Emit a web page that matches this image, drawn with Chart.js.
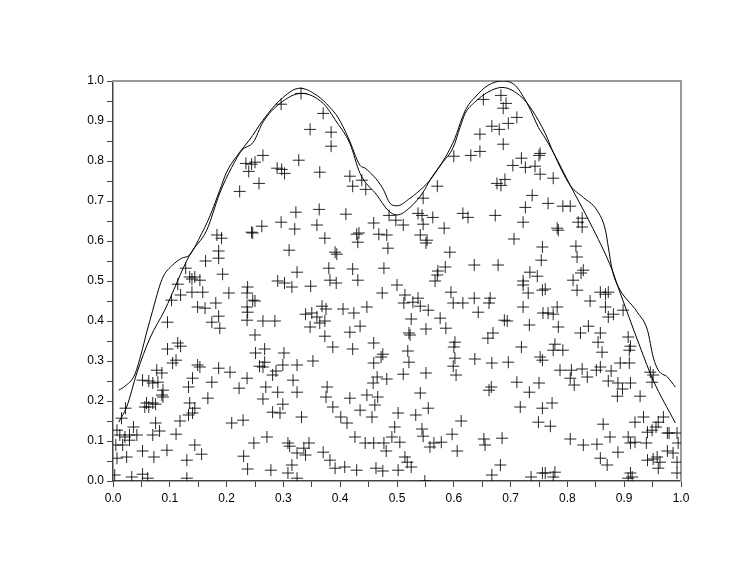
<!DOCTYPE html>
<html>
<head>
<meta charset="utf-8">
<title>Scatter with two curves</title>
<script src="https://cdn.jsdelivr.net/npm/chart.js@4.4.1/dist/chart.umd.min.js"></script>
<style>
  html, body { margin: 0; background: #fff; }
  canvas { display: block; }
</style>
</head>
<body>
<canvas id="chart" width="747" height="578"></canvas>
<script>
// sample points (x and y in the same order)
const crossX = [
  0.234,0.244,0.239,0.223,0.244,0.183,0.191,0.186,0.186,0.163,0.193,0.128,0.135,0.144,0.153,0.139,0.114,0.119,0.139,0.158,0.103,0.204,0.237,0.236,0.246,0.149,0.162,0.181,0.236,0.237,
  0.096,0.174,0.188,0.186,0.236,0.114,0.119,0.096,0.111,0.105,0.149,0.153,0.186,0.206,0.077,0.086,0.052,0.063,0.070,0.079,
  0.140,0.174,0.236,0.222,0.133,0.088,0.086,0.088,0.167,0.059,0.070,0.056,0.063,0.075,0.135,0.144,0.140,0.133,0.022,0.015,
  0.075,0.118,0.229,0.209,0.036,0.007,0.012,0.021,0.029,0.042,0.070,0.082,0.111,0.005,0.017,0.029,0.052,0.072,0.095,0.144,
  0.156,0.130,0.007,0.024,0.230,0.237,0.003,0.033,0.052,0.061,0.130,
  0.331,0.296,0.370,0.347,0.384,0.384,0.264,0.250,0.327,0.289,0.297,0.302,0.364,0.257,0.417,0.422,0.438,0.445,0.322,0.363,
  0.410,0.262,0.246,0.296,0.320,0.359,0.373,0.459,0.433,0.429,0.431,0.468,0.482,0.484,0.486,0.498,0.310,0.391,0.394,0.380,
  0.324,0.422,0.477,0.290,0.302,0.382,0.393,0.431,
  0.315,0.348,0.474,0.500,0.250,0.368,0.375,0.405,0.424,0.447,0.339,0.350,0.359,0.373,0.364,0.347,0.264,0.285,0.435,0.417,
  0.250,0.373,0.387,0.459,0.422,0.475,0.472,0.251,0.267,0.301,0.352,0.459,0.267,0.258,0.264,0.299,0.287,0.281,0.324,0.317,
  0.465,0.482,0.458,0.269,0.290,0.324,0.377,0.375,0.417,0.447,0.466,0.461,0.264,0.299,0.281,0.294,0.332,0.387,0.401,0.412,
  0.435,0.456,0.502,0.496,0.491,0.248,0.271,0.308,0.311,0.336,0.345,0.324,0.339,0.370,0.382,0.391,0.408,0.426,0.444,0.459,
  0.477,0.481,0.429,0.463,0.475,0.502,0.278,0.315,0.308,0.324,
  0.683,0.692,0.687,0.652,0.711,0.667,0.680,0.696,0.646,0.687,0.600,0.630,0.646,0.752,0.750,0.704,0.719,0.726,0.743,0.752,
  0.571,0.676,0.683,0.690,0.738,0.546,0.726,0.722,0.673,0.537,0.544,0.563,0.616,0.625,0.511,0.546,0.583,0.541,0.553,0.551,
  0.706,0.756,0.754,0.593,0.636,0.678,0.585,0.572,0.571,0.567,0.734,0.747,0.722,
  0.595,0.514,0.512,0.528,0.537,0.541,0.555,0.599,0.616,0.636,0.664,0.662,0.643,0.722,0.722,0.731,0.756,0.525,0.576,0.586,
  0.551,0.521,0.523,0.689,0.694,0.733,0.669,0.660,0.757,0.602,0.600,0.719,0.519,0.602,0.637,0.667,0.696,0.752,0.756,0.521,
  0.599,0.511,0.551,0.604,0.711,0.750,0.666,0.662,0.733,0.541,0.555,0.533,0.717,0.756,0.613,0.749,0.544,0.546,0.597,
  0.505,0.578,0.558,0.565,0.606,0.653,0.655,0.685,0.514,0.518,0.525,0.682,0.667,0.549,0.736,0.756,
  0.775,0.766,0.792,0.805,0.782,0.784,0.826,0.826,0.819,0.815,0.817,0.828,0.824,0.810,
  0.817,0.761,0.840,0.858,0.872,0.867,0.782,0.766,0.775,0.867,0.881,0.872,0.898,0.784,0.823,0.837,0.858,0.854,0.907,0.778,
  0.911,0.909,0.792,0.775,0.861,0.893,0.909,0.858,0.787,0.807,0.826,0.851,0.877,0.805,0.812,0.835,0.872,0.889,0.911,0.946,
  0.951,0.949,0.897,0.888,0.928,0.773,0.770,0.863,0.919,0.934,0.969,0.960,0.941,0.949,0.956,0.976,0.979,0.993,0.805,0.828,
  0.852,0.875,0.907,0.911,0.919,0.939,0.995,0.889,0.858,0.870,0.941,0.958,0.963,0.951,0.976,0.986,0.993,0.960,0.761,0.778,
  0.775,0.911,0.914,0.907,0.993
];
const crossY = [
  0.794,0.792,0.774,0.724,0.622,0.615,0.607,0.575,0.557,0.550,0.517,0.532,0.510,0.510,0.502,0.505,0.492,0.465,0.472,0.472,0.452,0.470,0.485,0.470,0.452,0.435,0.432,0.445,0.435,0.422,
  0.397,0.397,0.382,0.412,0.402,0.345,0.337,0.330,0.302,0.295,0.290,0.285,0.282,0.272,0.277,0.270,0.252,0.250,0.245,0.247,
  0.257,0.247,0.257,0.232,0.235,0.227,0.215,0.210,0.207,0.195,0.195,0.185,0.185,0.192,0.195,0.182,0.170,0.165,0.182,0.157,
  0.145,0.150,0.152,0.145,0.135,0.127,0.115,0.110,0.115,0.115,0.115,0.125,0.117,0.090,0.090,0.102,0.075,0.060,0.077,0.090,
  0.067,0.052,0.057,0.060,0.062,0.030,0.015,0.010,0.017,0.007,0.007,
  0.969,0.942,0.919,0.879,0.872,0.837,0.814,0.797,0.802,0.782,0.779,0.769,0.772,0.744,0.762,0.737,0.752,0.729,0.672,0.679,
  0.667,0.637,0.620,0.647,0.630,0.640,0.607,0.645,0.620,0.617,0.597,0.617,0.615,0.582,0.664,0.652,0.577,0.572,0.567,0.532,
  0.522,0.530,0.532,0.500,0.495,0.502,0.495,0.502,
  0.485,0.487,0.470,0.490,0.450,0.437,0.430,0.430,0.420,0.435,0.417,0.420,0.410,0.400,0.395,0.385,0.400,0.400,0.387,0.372,
  0.365,0.362,0.335,0.345,0.330,0.317,0.310,0.320,0.330,0.320,0.300,0.295,0.297,0.287,0.285,0.290,0.275,0.265,0.290,0.252,
  0.260,0.255,0.245,0.235,0.222,0.222,0.235,0.210,0.207,0.215,0.210,0.190,0.205,0.192,0.172,0.170,0.160,0.185,0.160,0.145,
  0.177,0.160,0.170,0.135,0.110,0.095,0.110,0.095,0.087,0.082,0.095,0.070,0.065,0.072,0.052,0.032,0.035,0.110,0.095,0.095,
  0.095,0.075,0.027,0.032,0.025,0.027,0.027,0.040,0.020,0.007,
  0.964,0.944,0.932,0.954,0.909,0.887,0.879,0.894,0.867,0.842,0.812,0.814,0.824,0.819,0.814,0.789,0.807,0.784,0.787,0.767,
  0.737,0.744,0.739,0.754,0.714,0.707,0.684,0.647,0.664,0.669,0.664,0.659,0.669,0.659,0.640,0.642,0.632,0.615,0.602,0.595,
  0.605,0.585,0.552,0.572,0.540,0.540,0.535,0.525,0.515,0.500,0.522,0.512,0.500,
  0.472,0.465,0.445,0.447,0.457,0.437,0.427,0.445,0.445,0.457,0.457,0.445,0.422,0.435,0.490,0.470,0.477,0.405,0.407,0.382,
  0.380,0.370,0.365,0.402,0.400,0.390,0.370,0.357,0.420,0.347,0.335,0.335,0.325,0.307,0.305,0.295,0.297,0.310,0.302,0.297,
  0.287,0.267,0.270,0.265,0.247,0.245,0.235,0.227,0.222,0.220,0.182,0.165,0.185,0.182,0.150,0.147,0.130,0.112,0.117,
  0.097,0.097,0.085,0.095,0.075,0.105,0.090,0.107,0.060,0.047,0.035,0.040,0.015,0.000,0.010,0.020,
  0.757,0.694,0.687,0.687,0.632,0.627,0.657,0.635,0.647,0.587,0.560,0.527,0.520,0.502,
  0.477,0.480,0.450,0.472,0.472,0.467,0.435,0.420,0.417,0.435,0.417,0.410,0.427,0.385,0.370,0.387,0.370,0.347,0.360,0.342,
  0.337,0.327,0.327,0.327,0.322,0.295,0.295,0.285,0.277,0.277,0.280,0.277,0.275,0.257,0.240,0.260,0.250,0.245,0.245,0.272,
  0.265,0.247,0.230,0.212,0.212,0.195,0.137,0.142,0.147,0.160,0.160,0.147,0.122,0.127,0.135,0.120,0.120,0.120,0.105,0.090,
  0.092,0.110,0.110,0.095,0.097,0.095,0.095,0.072,0.057,0.040,0.052,0.060,0.047,0.055,0.075,0.070,0.047,0.032,0.020,0.022,
  0.010,0.020,0.010,0.007,0.020
];

// the bumpier curve
const curveAX = [0.010,0.021,0.038,0.050,0.059,0.070,0.080,0.088,0.105,0.121,0.135,0.153,0.170,0.188,0.200,0.223,0.240,0.264,0.294,0.329,
  0.359,0.382,0.396,0.414,0.435,0.444,0.474,0.488,0.500,0.523,0.546,0.558,0.579,0.599,0.611,0.620,0.637,0.660,0.685,0.720,
  0.738,0.761,0.775,0.805,0.828,0.852,0.867,0.872,0.879,0.888,0.923,0.941,0.951,0.960,0.976,0.990];
const curveAY = [0.227,0.237,0.265,0.320,0.370,0.427,0.478,0.510,0.540,0.557,0.565,0.610,0.660,0.727,0.772,0.822,0.852,0.902,0.952,0.982,
  0.964,0.934,0.909,0.859,0.789,0.782,0.734,0.694,0.688,0.707,0.734,0.752,0.794,0.834,0.884,0.919,0.947,0.972,0.984,0.959,
  0.927,0.869,0.822,0.739,0.709,0.677,0.627,0.585,0.527,0.490,0.422,0.377,0.310,0.277,0.260,0.235];

// the smoother curve
const curveBX = [0.010,0.024,0.042,0.065,0.091,0.135,0.165,0.188,0.209,0.227,0.247,0.264,0.294,0.332,0.370,0.394,0.417,0.435,0.465,0.484,
  0.500,0.523,0.546,0.558,0.585,0.602,0.615,0.623,0.637,0.660,0.685,0.708,0.731,0.749,0.761,0.775,0.805,0.840,0.879,0.888,
  0.928,0.951,0.990];
const curveBY = [0.147,0.185,0.270,0.357,0.427,0.565,0.627,0.720,0.784,0.827,0.847,0.897,0.944,0.969,0.944,0.897,0.844,0.769,0.714,0.677,
  0.665,0.684,0.722,0.752,0.809,0.857,0.909,0.934,0.959,0.989,1.000,0.989,0.939,0.884,0.857,0.822,0.739,0.645,0.527,0.490,
  0.335,0.252,0.145];

const pairs = (xs, ys) => xs.map((x, i) => ({ x: x, y: ys[i] }));

// labels on every 0.1, bare ticks on the 0.05 in between
const tickLabel = v => {
  const n = Math.round(v * 20);
  return n % 2 === 0 ? (n / 20).toFixed(1) : '';
};

const font = { family: '"Liberation Sans", Arial, sans-serif', size: 12 };
const axisColor = '#444';

new Chart(document.getElementById('chart'), {
  type: 'scatter',
  data: {
    datasets: [
      {
        data: pairs(crossX, crossY),
        pointStyle: 'cross',
        pointRadius: 6,
        pointBorderWidth: 1,
        pointBorderColor: 'rgba(0,0,0,0.85)',
        showLine: false
      },
      {
        data: pairs(curveAX, curveAY),
        showLine: true,
        borderColor: '#000',
        borderWidth: 1,
        pointRadius: 0,
        cubicInterpolationMode: 'monotone'
      },
      {
        data: pairs(curveBX, curveBY),
        showLine: true,
        borderColor: '#000',
        borderWidth: 1,
        pointRadius: 0,
        cubicInterpolationMode: 'monotone'
      }
    ]
  },
  options: {
    responsive: false,
    animation: false,
    devicePixelRatio: 1,
    layout: { padding: { top: 81, right: 66, bottom: 0, left: 0 } },
    plugins: { legend: { display: false }, tooltip: { enabled: false } },
    scales: {
      x: {
        type: 'linear', position: 'bottom', min: 0, max: 1,
        afterFit: s => { s.height = 97; },
        border: { color: axisColor, width: 1.5 },
        grid: { drawOnChartArea: false, drawTicks: true, tickLength: 6, color: axisColor },
        ticks: { stepSize: 0.05, autoSkip: false, maxRotation: 0, padding: 4, color: '#000', font: font, callback: tickLabel }
      },
      y: {
        type: 'linear', position: 'left', min: 0, max: 1,
        afterFit: s => { s.width = 113; },
        border: { color: axisColor, width: 1.5 },
        grid: { drawOnChartArea: false, drawTicks: true, tickLength: 6, color: axisColor },
        ticks: { stepSize: 0.05, autoSkip: false, padding: 3, color: '#000', font: font, callback: tickLabel }
      },
      xTop: {
        type: 'linear', position: 'top', min: 0, max: 1,
        afterFit: s => { s.height = 0; },
        border: { color: '#999', width: 2 },
        grid: { display: false },
        ticks: { display: false }
      },
      yRight: {
        type: 'linear', position: 'right', min: 0, max: 1,
        afterFit: s => { s.width = 0; },
        border: { color: '#999', width: 2 },
        grid: { display: false },
        ticks: { display: false }
      }
    }
  }
});
</script>
</body>
</html>
